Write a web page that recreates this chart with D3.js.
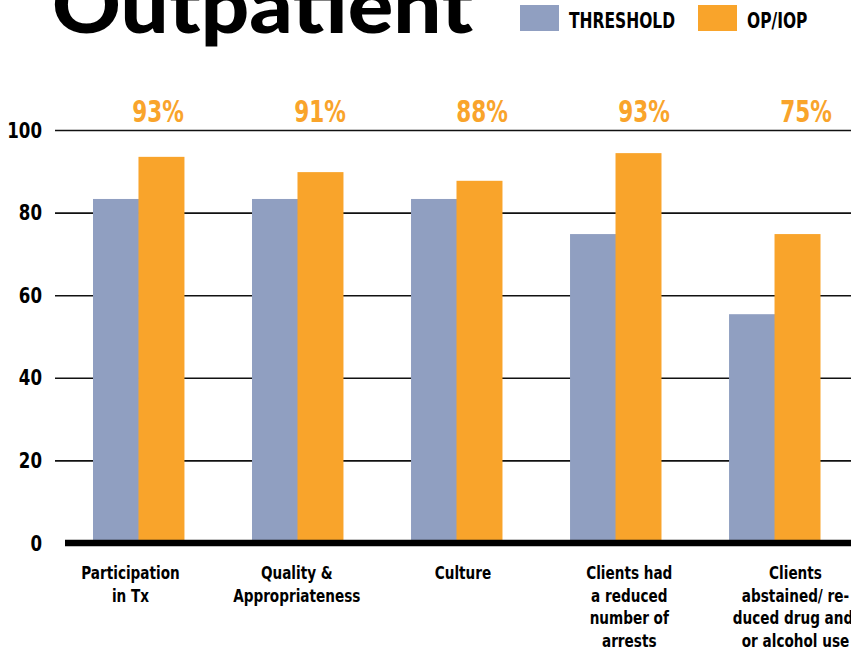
<!DOCTYPE html>
<html>
<head>
<meta charset="utf-8">
<script src="https://cdn.jsdelivr.net/npm/d3@7/dist/d3.min.js"></script>
<style>
  body { margin: 0; background: #fff; }
  svg { display: block; }
  .cond { font-family: "DejaVu Sans Condensed", "DejaVu Sans", sans-serif; font-weight: bold; }
</style>
</head>
<body>
<div id="container"></div>
<script>
const categories = [
  'Participation\nin Tx',
  'Quality &\nAppropriateness',
  'Culture',
  'Clients had\na reduced\nnumber of\narrests',
  'Clients\nabstained/ re-\nduced drug and/\nor alcohol use'
];
const seriesNames = ['THRESHOLD', 'OP/IOP'];
const threshold = [83.3, 83.3, 83.3, 74.8, 55.4];
const opIop = [93.5, 89.8, 87.7, 94.4, 74.8];
const opIopLabels = ['93%', '91%', '88%', '93%', '75%'];
const yTicks = [0, 20, 40, 60, 80, 100];

const W = 851, H = 655;
const colors = { THRESHOLD: '#909fc1', 'OP/IOP': '#f9a42b' };

// squeeze text horizontally to look like a condensed face
function squeeze(sel, k) {
  sel.each(function () {
    const len = this.getComputedTextLength();
    d3.select(this).attr('textLength', len * k).attr('lengthAdjust', 'spacingAndGlyphs');
  });
}

const svg = d3.select('#container').append('svg')
  .attr('width', W)
  .attr('height', H);

const x = d3.scaleBand().domain(categories).range([93, 820]).paddingInner(0.428).paddingOuter(0);
const xs = d3.scaleBand().domain(seriesNames).range([0, x.bandwidth()]);
const y = d3.scaleLinear().domain([0, 100]).range([543, 130]);
// text in the original sits on its own, slightly wider spacing
const xPct = d3.scalePoint().domain(categories).range([158, 806]);
const xLab = d3.scalePoint().domain(categories).range([130, 795]);

// title
svg.append('text')
  .attr('x', 52)
  .attr('y', 33)
  .attr('textLength', 421)
  .attr('lengthAdjust', 'spacingAndGlyphs')
  .style('font-family', 'Lato, "Open Sans", sans-serif')
  .style('font-weight', 900)
  .style('font-size', '78px')
  .text('Outpatient');

// legend
const legendX = [520, 698];
seriesNames.forEach((s, i) => {
  svg.append('rect')
    .attr('x', legendX[i]).attr('y', 5)
    .attr('width', 39).attr('height', 26)
    .attr('fill', colors[s]);
  svg.append('text')
    .attr('class', 'cond')
    .attr('x', legendX[i] + 49).attr('y', 28)
    .style('font-size', '21px')
    .text(s)
    .call(squeeze, 0.82);
});

// gridlines + y labels
const yAxis = svg.append('g')
  .attr('transform', 'translate(55,0)')
  .call(d3.axisLeft(y).tickValues(yTicks).tickSizeInner(-(W - 55)).tickSizeOuter(0).tickPadding(13));
yAxis.select('.domain').remove();
yAxis.selectAll('line')
  .attr('stroke', '#111')
  .attr('stroke-width', 1.6)
  .filter((d) => d === 0).remove();
yAxis.selectAll('text')
  .attr('class', 'cond')
  .attr('fill', '#000')
  .style('font-size', '21px')
  .attr('dy', '0.34em')
  .call(squeeze, 0.88);

// bars
const groups = svg.append('g').selectAll('g')
  .data(categories).enter()
  .append('g')
  .attr('transform', (d) => `translate(${x(d)},0)`);

groups.selectAll('rect')
  .data((d, i) => [{ s: 'THRESHOLD', v: threshold[i] }, { s: 'OP/IOP', v: opIop[i] }])
  .enter().append('rect')
  .attr('x', (d) => xs(d.s))
  .attr('y', (d) => y(d.v))
  .attr('width', xs.bandwidth() + 0.5)
  .attr('height', (d) => y(0) - y(d.v))
  .attr('fill', (d) => colors[d.s]);

// baseline
svg.append('line')
  .attr('x1', 65).attr('x2', W)
  .attr('y1', y(0)).attr('y2', y(0))
  .attr('stroke', '#000')
  .attr('stroke-width', 6.5);

// percent labels above
svg.append('g').selectAll('text')
  .data(categories).enter()
  .append('text')
  .attr('class', 'cond')
  .attr('x', (d) => xPct(d))
  .attr('y', 122)
  .attr('text-anchor', 'middle')
  .attr('fill', colors['OP/IOP'])
  .style('font-size', '30px')
  .text((d, i) => opIopLabels[i])
  .call(squeeze, 0.8);

// category labels
const xAxis = svg.append('g')
  .attr('transform', `translate(0,${y(0)})`)
  .call(d3.axisBottom(xLab).tickSize(0).tickPadding(0));
xAxis.select('.domain').remove();
xAxis.selectAll('text').each(function (d) {
  const t = d3.select(this)
    .attr('class', 'cond')
    .attr('fill', '#000')
    .attr('y', 0)
    .attr('dy', null)
    .style('font-size', '18px')
    .text(null);
  d.split('\n').forEach((line, i) => {
    t.append('tspan')
      .attr('x', 0)
      .attr('y', 36 + i * 22.7)
      .text(line);
  });
  t.selectAll('tspan').call(squeeze, 0.84);
});
</script>
</body>
</html>
